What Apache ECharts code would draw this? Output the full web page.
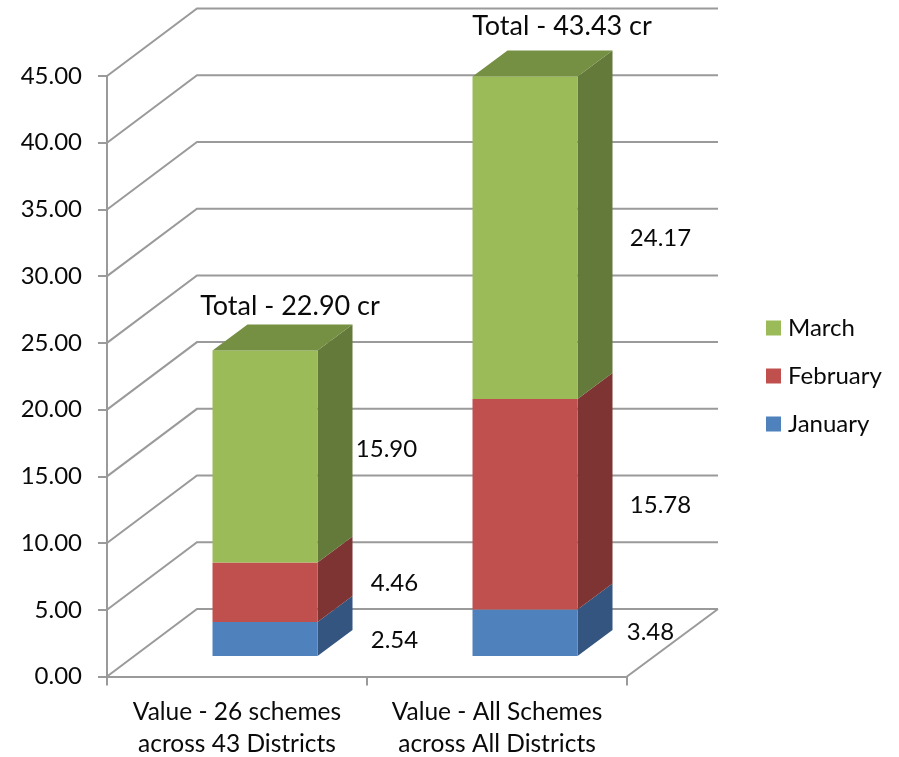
<!DOCTYPE html>
<html>
<head>
<meta charset="utf-8">
<style>
  html, body { margin: 0; padding: 0; background: #fff; }
  #chart { width: 899px; height: 757px; }
</style>
</head>
<body>
<div id="chart"></div>
<script src="https://cdn.jsdelivr.net/npm/echarts@6/dist/echarts.min.js"></script>
<script>
var categories = ['Value - 26 schemes\nacross 43 Districts', 'Value - All Schemes\nacross All Districts'];
var january = [2.54, 3.48];
var february = [4.46, 15.78];
var march = [15.90, 24.17];
var totals = [22.90, 43.43];
var yTicks = [0, 5, 10, 15, 20, 25, 30, 35, 40, 45];

// pseudo 3d: how far the back wall and the bars sit behind the axis plane
var WALL_DX = 90, WALL_DY = -67.5;
var BAR_DX = 28, BAR_DY = -20.5, BAR_W = 105, SIDE_DX = 35, SIDE_DY = -26;
var FONT = 'Lato';
var TEXT = '#0a0a0a';
var LINE = '#9a9a9a';

// value label nudges from the bar front right corner, one per bar
var janShift = [[77, 1], [73, -1]];
var febShift = [[77, -9], [83, 1]];
var marShift = [[69, -7], [83, 1]];
var totalShift = [[25, -44], [37, -50]];

function stackSeries(name, values, below, colors, shift, hasTop) {
  var rows = values.map(function (v, i) {
    return [i, below[i], below[i] + v, v];
  });
  return {
    name: name,
    type: 'custom',
    itemStyle: { color: colors[0] },
    encode: { x: 0, y: [1, 2] },
    data: rows,
    z: 3,
    renderItem: function (params, api) {
      var low = api.coord([api.value(0), api.value(1)]);
      var high = api.coord([api.value(0), api.value(2)]);
      var x0 = low[0] + BAR_DX - BAR_W / 2, x1 = x0 + BAR_W;
      var y0 = low[1] + BAR_DY, y1 = high[1] + BAR_DY;
      var s = shift[params.dataIndex];
      var children = [
        { type: 'polygon', shape: { points: [[x1, y0], [x1 + SIDE_DX, y0 + SIDE_DY], [x1 + SIDE_DX, y1 + SIDE_DY], [x1, y1]] }, style: { fill: colors[1] } },
        { type: 'rect', shape: { x: x0, y: y1, width: BAR_W, height: y0 - y1 }, style: { fill: colors[0] } },
        { type: 'text', style: { text: api.value(3).toFixed(2), x: x1 + s[0], y: (y0 + y1) / 2 + s[1], align: 'center', verticalAlign: 'middle', font: '24px ' + FONT, fill: TEXT } }
      ];
      if (hasTop) {
        children.push({ type: 'polygon', shape: { points: [[x0, y1], [x1, y1], [x1 + SIDE_DX, y1 + SIDE_DY], [x0 + SIDE_DX, y1 + SIDE_DY]] }, style: { fill: colors[2] } });
      }
      return { type: 'group', children: children };
    }
  };
}

var wallSeries = {
  name: 'walls',
  type: 'custom',
  z: 1,
  silent: true,
  encode: { y: 1 },
  data: yTicks.map(function (t) { return [0, t]; }),
  renderItem: function (params, api) {
    var p = api.coord([0, api.value(1)]);
    var left = params.coordSys.x;
    var right = left + params.coordSys.width;
    var lineStyle = { stroke: LINE, lineWidth: 2, fill: null };
    var children = [{
      type: 'polyline',
      shape: { points: [[left, p[1]], [left + WALL_DX, p[1] + WALL_DY], [right + WALL_DX + 1, p[1] + WALL_DY]] },
      style: lineStyle
    }];
    if (api.value(1) === 0) {
      children.push({ type: 'line', shape: { x1: right, y1: p[1], x2: right + WALL_DX + 1, y2: p[1] + WALL_DY }, style: lineStyle });
    }
    return { type: 'group', children: children };
  }
};

var totalSeries = {
  name: 'totals',
  type: 'custom',
  z: 4,
  silent: true,
  encode: { x: 0, y: 1 },
  data: totals.map(function (t, i) { return [i, t]; }),
  renderItem: function (params, api) {
    var p = api.coord([api.value(0), api.value(1)]);
    var s = totalShift[params.dataIndex];
    return {
      type: 'text',
      style: { text: 'Total - ' + api.value(1).toFixed(2) + ' cr', x: p[0] + BAR_DX + s[0], y: p[1] + BAR_DY + s[1], align: 'center', verticalAlign: 'middle', font: '27px ' + FONT, fill: TEXT }
    };
  }
};

var below2 = january.map(function (v, i) { return v + february[i]; });
var zeros = january.map(function () { return 0; });

var myChart = echarts.init(document.getElementById('chart'));
myChart.setOption({
  animation: false,
  backgroundColor: '#fff',
  grid: { left: 107, right: 272, top: 76, bottom: 80.5, outerBoundsMode: 'none' },
  legend: {
    data: ['March', 'February', 'January'],
    orient: 'vertical',
    left: 766,
    top: 314,
    padding: 0,
    icon: 'rect',
    itemWidth: 15,
    itemHeight: 15,
    itemGap: 20,
    selectedMode: false,
    textStyle: { fontFamily: FONT, fontSize: 24, color: TEXT, padding: [0, 0, 0, 2], lineHeight: 28 }
  },
  xAxis: {
    type: 'category',
    data: categories,
    axisLine: { lineStyle: { color: LINE, width: 2 } },
    axisTick: { show: true, length: 9, alignWithLabel: false, lineStyle: { color: LINE, width: 2 } },
    axisLabel: { interval: 0, margin: 20, fontFamily: FONT, fontSize: 24.5, lineHeight: 32, color: TEXT }
  },
  yAxis: {
    type: 'value',
    min: 0,
    max: 45,
    interval: 5,
    axisLine: { show: true, lineStyle: { color: LINE, width: 2 } },
    axisTick: { show: true, length: 9, lineStyle: { color: LINE, width: 2 } },
    splitLine: { show: false },
    axisLabel: {
      margin: 25,
      padding: [8, 0, 0, 0],
      fontFamily: FONT,
      fontSize: 24,
      color: TEXT,
      formatter: function (v) { return v.toFixed(2); }
    }
  },
  series: [
    wallSeries,
    stackSeries('January', january, zeros, ['#4f81bd', '#335580'], janShift, false),
    stackSeries('February', february, january, ['#c0504d', '#7d3432'], febShift, false),
    stackSeries('March', march, below2, ['#9bbb59', '#647a3a', '#758f43'], marShift, true),
    totalSeries
  ]
});
</script>
</body>
</html>
